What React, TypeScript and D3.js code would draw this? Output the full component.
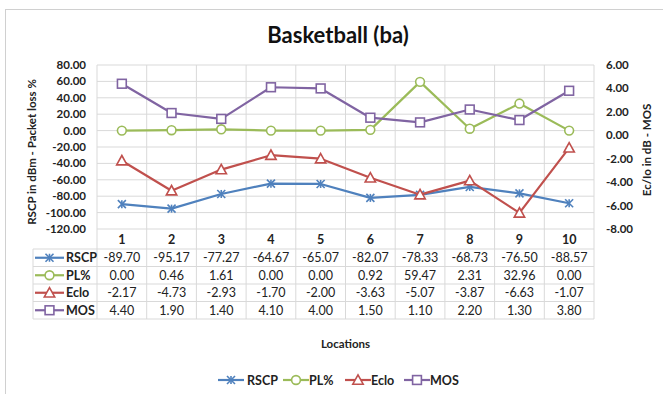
import React from "react";
import * as d3 from "d3";

// Drive-test measurements per location
const locations = ["1", "2", "3", "4", "5", "6", "7", "8", "9", "10"];
const rscp = [-89.7, -95.17, -77.27, -64.67, -65.07, -82.07, -78.33, -68.73, -76.5, -88.57];
const plPct = [0.0, 0.46, 1.61, 0.0, 0.0, 0.92, 59.47, 2.31, 32.96, 0.0];
const eclo = [-2.17, -4.73, -2.93, -1.7, -2.0, -3.63, -5.07, -3.87, -6.63, -1.07];
const mos = [4.4, 1.9, 1.4, 4.1, 4.0, 1.5, 1.1, 2.2, 1.3, 3.8];

const leftTicks = [80, 60, 40, 20, 0, -20, -40, -60, -80, -100, -120];
const rightTicks = [6, 4, 2, 0, -2, -4, -6, -8];

type Marker = "star" | "circle" | "triangle" | "square";
interface Series {
  name: string;
  values: number[];
  color: string;
  marker: Marker;
  axis: "left" | "right";
}

const series: Series[] = [
  { name: "RSCP", values: rscp, color: "#4F81BD", marker: "star", axis: "left" },
  { name: "PL%", values: plPct, color: "#9BBB59", marker: "circle", axis: "left" },
  { name: "Eclo", values: eclo, color: "#C0504D", marker: "triangle", axis: "right" },
  { name: "MOS", values: mos, color: "#8064A2", marker: "square", axis: "right" },
];

const W = 663;
const H = 394;
const plot = { left: 97, right: 594, top: 65, bottom: 229 };
const tableLeft = 33;
const headerH = 20;
const rowH = 17.5;
const FONT = "Lato, 'Open Sans', sans-serif";
const grid = "#d9d9d9";

function MarkerShape({ type, x, y, color }: { type: Marker; x: number; y: number; color: string }) {
  const s = 4;
  if (type === "star") {
    return (
      <g stroke={color} strokeWidth={1.6}>
        <line x1={x - s} y1={y - s} x2={x + s} y2={y + s} />
        <line x1={x - s} y1={y + s} x2={x + s} y2={y - s} />
        <line x1={x} y1={y - s} x2={x} y2={y + s} />
      </g>
    );
  }
  if (type === "circle") {
    return <circle cx={x} cy={y} r={4.4} fill="#fff" stroke={color} strokeWidth={1.6} />;
  }
  if (type === "triangle") {
    const p = `${x},${y - 5.2} ${x + 5.2},${y + 4.2} ${x - 5.2},${y + 4.2}`;
    return <polygon points={p} fill="#fff" stroke={color} strokeWidth={1.6} />;
  }
  return <rect x={x - 4.4} y={y - 4.4} width={8.8} height={8.8} fill="#fff" stroke={color} strokeWidth={1.6} />;
}

function LegendKey({ s, x, y, w }: { s: Series; x: number; y: number; w: number }) {
  return (
    <g>
      <line x1={x} y1={y} x2={x + w} y2={y} stroke={s.color} strokeWidth={2.2} />
      <MarkerShape type={s.marker} x={x + w / 2} y={y} color={s.color} />
    </g>
  );
}

export default function App() {
  const x = d3.scaleBand<string>().domain(locations).range([plot.left, plot.right]);
  const yL = d3.scaleLinear().domain([-120, 80]).range([plot.bottom, plot.top]);
  const yR = d3.scaleLinear().domain([-8, 6]).range([plot.bottom, plot.top]);
  const cx = (d: string) => (x(d) ?? 0) + x.bandwidth() / 2;

  const tableTop = plot.bottom;
  const tableBottom = tableTop + headerH + rowH * series.length;
  const legendItems = [
    { s: series[0], lx: 218, tx: 247 },
    { s: series[1], lx: 283, tx: 309 },
    { s: series[2], lx: 345, tx: 371 },
    { s: series[3], lx: 404, tx: 430 },
  ];

  return (
    <svg width={W} height={H} style={{ position: "absolute", left: 0, top: 0, fontFamily: FONT }}>
      <rect x={0} y={0} width={W} height={H} fill="#fff" />
      <rect x={5.5} y={9.5} width={700} height={420} fill="#fff" stroke="#d0d0d0" strokeWidth={1} />

      <text x={338} y={43} textAnchor="middle" fontSize={22} fontWeight={700} fill="#111">
        Basketball (ba)
      </text>

      {/* gridlines */}
      {leftTicks.map((t) => (
        <line key={"h" + t} x1={plot.left} x2={plot.right} y1={yL(t)} y2={yL(t)} stroke={grid} />
      ))}
      {locations.map((d) => (
        <line key={"v" + d} x1={x(d)} x2={x(d)} y1={plot.top} y2={tableBottom} stroke={grid} />
      ))}
      <line x1={plot.right} x2={plot.right} y1={plot.top} y2={tableBottom} stroke={grid} />

      {/* data table */}
      {[0, ...series.map((_, i) => i + 1)].map((i) => {
        const yy = tableTop + headerH + rowH * i;
        return <line key={"r" + i} x1={tableLeft} x2={plot.right} y1={yy} y2={yy} stroke={grid} />;
      })}
      <line x1={tableLeft} x2={tableLeft} y1={tableTop + headerH} y2={tableBottom} stroke={grid} />
      {locations.map((d) => (
        <text key={"hd" + d} x={cx(d)} y={tableTop + headerH / 2 + 4.5} textAnchor="middle" fontSize={12.5} fontWeight={700} fill="#222">
          {d}
        </text>
      ))}
      {series.map((s, i) => {
        const ry = tableTop + headerH + rowH * i + rowH / 2;
        return (
          <g key={"row" + s.name}>
            <LegendKey s={s} x={35} y={ry} w={29} />
            <text x={66} y={ry + 4.5} fontSize={12.5} fontWeight={700} fill="#222">
              {s.name}
            </text>
            {s.values.map((v, j) => (
              <text key={j} x={cx(locations[j])} y={ry + 4.5} textAnchor="middle" fontSize={12.5} fill="#222">
                {v.toFixed(2)}
              </text>
            ))}
          </g>
        );
      })}

      {/* axes labels */}
      {leftTicks.map((t) => (
        <text key={"lt" + t} x={86} y={yL(t) + 4} textAnchor="end" fontSize={11.5} fontWeight={700} fill="#222">
          {t.toFixed(2)}
        </text>
      ))}
      {rightTicks.map((t) => (
        <text key={"rt" + t} x={606} y={yR(t) + 4} fontSize={11.5} fontWeight={700} fill="#222">
          {t.toFixed(2)}
        </text>
      ))}
      <text transform={`translate(36,${(plot.top + plot.bottom) / 2 + 5}) rotate(-90)`} textAnchor="middle" fontSize={11.5} fontWeight={700} fill="#222">
        RSCP in dBm - Packet loss %
      </text>
      <text transform={`translate(651,${(plot.top + plot.bottom) / 2 + 3}) rotate(-90)`} textAnchor="middle" fontSize={11.5} fontWeight={700} fill="#222">
        Ec/Io in dB - MOS
      </text>

      {/* series */}
      {series.map((s) => {
        const y = s.axis === "left" ? yL : yR;
        const line = d3
          .line<number>()
          .x((_, i) => cx(locations[i]))
          .y((v) => y(v));
        return (
          <g key={"s" + s.name}>
            <path d={line(s.values) ?? ""} fill="none" stroke={s.color} strokeWidth={2.2} strokeLinejoin="round" />
            {s.values.map((v, i) => (
              <MarkerShape key={i} type={s.marker} x={cx(locations[i])} y={y(v)} color={s.color} />
            ))}
          </g>
        );
      })}

      <text x={(plot.left + plot.right) / 2} y={348} textAnchor="middle" fontSize={11.5} fontWeight={700} fill="#222">
        Locations
      </text>

      {/* legend */}
      {legendItems.map(({ s, lx, tx }) => (
        <g key={"lg" + s.name}>
          <LegendKey s={s} x={lx} y={380} w={26} />
          <text x={tx} y={384.5} fontSize={12.5} fontWeight={700} fill="#222">
            {s.name}
          </text>
        </g>
      ))}
    </svg>
  );
}
